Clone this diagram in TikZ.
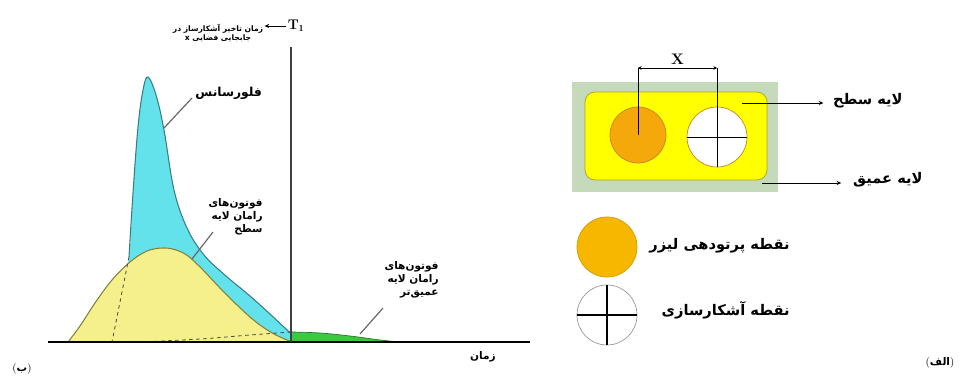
\documentclass[tikz,border=0pt]{standalone}
\usepackage{fontspec}
\newfontfamily\farsi[Script=Arabic]{DejaVu Sans}
\TeXXeTstate=1
\usetikzlibrary{arrows.meta}

\newcommand{\rtl}[1]{\beginR #1\endR}
\newcommand{\paren}[1]{{\normalfont(}\rtl{#1}{\normalfont)}}

\definecolor{fluofill}{RGB}{100,226,236}
\definecolor{fluoline}{RGB}{55,125,135}
\definecolor{surffill}{RGB}{246,240,140}
\definecolor{surfline}{RGB}{130,130,55}
\definecolor{deepfill}{RGB}{60,200,70}
\definecolor{deeplayer}{RGB}{196,218,186}
\definecolor{toplayer}{RGB}{255,255,0}
\definecolor{toplayerline}{RGB}{170,160,40}
\definecolor{laser}{RGB}{245,168,10}
\definecolor{laserline}{RGB}{200,130,30}
\definecolor{laserkey}{RGB}{247,182,0}

\begin{document}
\begin{tikzpicture}[x=0.03cm, y=-0.03cm,
    lbl/.style={font=\farsi\bfseries\fontsize{9}{11}\selectfont, align=right, inner sep=1pt},
    bigl/.style={font=\farsi\bfseries\fontsize{12.5}{14}\selectfont, inner sep=1pt, anchor=east},
    leader/.style={draw=black!60, line width=1pt},
    arrow/.style={-{Stealth[length=4pt, width=3.5pt]}, line width=0.8pt},
    dimline/.style={{Stealth[length=3pt, width=3pt]}-{Stealth[length=3pt, width=3pt]}, line width=0.7pt},
    spot/.style={circle, draw=laserline, line width=0.6pt, fill=#1, inner sep=0pt},
    detector/.style={circle, draw=#1, fill=white, line width=0.6pt, inner sep=0pt}
]
    \useasboundingbox (0,0) rectangle (960,376);

    % --- (b) time profile ---
    \fill[fluofill] plot[smooth, tension=0.6] coordinates {(112,342) (120,300) (129,257) (133,193)
        (138,127) (143,90) (148,77) (156,95) (164,130) (174,190) (187,228) (204,255) (226,276)
        (250,296) (270,314) (285,328) (296,337) (312,342)} -- cycle;
    \draw[fluoline, line width=0.9pt] plot[smooth, tension=0.6] coordinates {(129,257) (133,193)
        (138,127) (143,90) (148,77) (156,95) (164,130) (174,190) (187,228) (204,255) (226,276)
        (250,296) (270,314) (285,328) (296,337) (312,342)};
    \filldraw[fill=surffill, draw=surfline, line width=0.9pt] plot[smooth, tension=0.6] coordinates {(68,342)
        (80,326) (95,303) (112,280) (130,262) (147,251) (163,248) (176,250) (188,256) (203,270)
        (219,287) (237,305) (256,322) (274,334) (292,342)};
    \draw[dashed, black!70, line width=0.7pt] (129,257) -- (112,342);
    \fill[deepfill] plot[smooth, tension=0.6] coordinates {(291,332) (320,333) (350,336) (380,340)
        (400,342)} -- (291,342) -- cycle;
    \draw[dashed, black!70, line width=0.7pt] plot[smooth, tension=0.6] coordinates {(140,342)
        (200,339) (250,335) (291,332)};
    \draw[deepfill!60!black, line width=0.6pt] plot[smooth, tension=0.6] coordinates {(291,332)
        (320,333) (350,336) (380,340) (400,342)};

    \draw[line width=2.4pt] (48,342) -- (530,342);
    \draw[black!75, line width=1.4pt] (291,47) -- (291,342);

    \node[font=\bfseries\fontsize{12}{13}\selectfont, inner sep=1pt] (tone) at (296,26) {\textbf{T}$_{\mathbf{1}}$};
    \node[lbl, align=center, font=\farsi\bfseries\fontsize{6.5}{8}\selectfont] (delay) at (218,33)
        {\rtl{زمان تاخیر آشکارساز در}\\\rtl{جابجایی فضایی x}};
    \draw[arrow, line width=0.7pt] (tone.west) -- (delay.east |- tone.west);

    \coordinate (fluopt) at (164,128);
    \node[lbl, anchor=west, font=\farsi\bfseries\fontsize{10.5}{12}\selectfont] (fluo) at (194,93) {\rtl{فلورسانس}};
    \draw[leader] (192,98) -- (fluopt);

    \coordinate (surfpt) at (192,259);
    \node[lbl, anchor=north east] (surf) at (264,197) {\rtl{فوتون‌های}\\\rtl{رامان لایه}\\\rtl{سطح}};
    \draw[leader] (213,232) -- (surfpt);

    \coordinate (deeppt) at (360,334);
    \node[lbl, anchor=north east] (deep) at (440,260) {\rtl{فوتون‌های}\\\rtl{رامان لایه}\\\rtl{عمیق‌تر}};
    \draw[leader] (383,308) -- (deeppt);

    \node[lbl] (time) at (483,357) {\rtl{زمان}};
    \node[lbl] (tagb) at (22,369) {\paren{ب}};

    % --- (a) probe layout ---
    \node[fill=deeplayer, minimum width=6.18cm, minimum height=3.3cm] (base) at (675,137) {};
    \node[fill=toplayer, draw=toplayerline, line width=0.6pt, rounded corners=0.3cm,
          minimum width=5.46cm, minimum height=2.64cm] (top) at (676,136) {};
    \node[spot=laser, minimum size=1.68cm] (src) at (638,135) {};
    \node[detector=laserline, minimum size=1.8cm] (det) at (717,137) {};
    \draw[line width=0.8pt] (det.west) -- (det.east);

    \coordinate (xl) at (638,68);
    \coordinate (xr) at (717,68);
    \draw[line width=0.8pt] (src.center) -- (xl);
    \draw[line width=0.8pt] (det.south) -- (xr);
    \draw[dimline] (xl) -- node[above=3pt, font=\fontsize{13}{14}\selectfont, inner sep=0pt] (dist) {\textbf{X}} (xr);

    \coordinate (toppt) at (742,103);
    \node[bigl] (toplbl) at (904,101) {\rtl{لایه سطح}};
    \draw[arrow, shorten >=7pt] (toppt) -- (toplbl.west |- toppt);

    \coordinate (basept) at (762,183);
    \node[bigl] (baselbl) at (924,180) {\rtl{لایه عمیق}};
    \draw[arrow, shorten >=9pt] (basept) -- (baselbl.west |- basept);

    \node[spot=laserkey, draw=laserkey!85!black, minimum size=1.8cm] (srckey) at (607,247) {};
    \node[bigl] (srctxt) at (791,246) {\rtl{نقطه پرتودهی لیزر}};
    \node[detector=black!40, minimum size=1.8cm] (detkey) at (607,315) {};
    \draw[line width=1pt] (detkey.west) -- (detkey.east);
    \draw[line width=1pt] (detkey.north) -- (detkey.south);
    \node[bigl] (dettxt) at (791,310) {\rtl{نقطه آشکارسازی}};

    \node[lbl] (taga) at (940,363) {\paren{الف}};
\end{tikzpicture}
\end{document}
